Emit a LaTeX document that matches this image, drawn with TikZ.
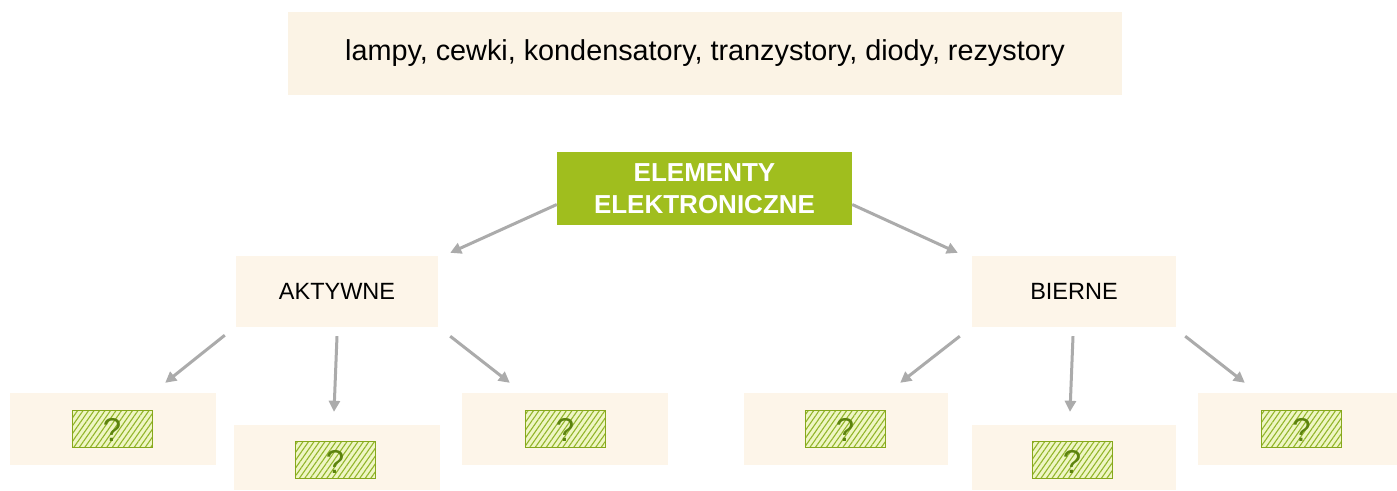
\documentclass[tikz,border=0pt]{standalone}
\usepackage{fontspec}
\setmainfont{Liberation Sans}
\usetikzlibrary{arrows.meta,patterns.meta,calc}
\definecolor{beige}{HTML}{FBF3E5}
\definecolor{beigeb}{HTML}{FDF5E9}
\definecolor{lime}{HTML}{A0BE1E}
\definecolor{hatchbg}{HTML}{EFF6C4}
\definecolor{hatchln}{HTML}{92B52A}
\definecolor{hatchbd}{HTML}{86A81C}
\definecolor{qmark}{HTML}{5C830E}
\definecolor{arrowgray}{HTML}{ABABAB}
\tikzset{
  infobox/.style={fill=beige, draw=none, inner sep=0pt},
  catbox/.style={fill=beigeb, draw=none, inner sep=0pt, minimum height=71pt, text=black, font=\fontsize{23.5}{27}\selectfont},
  leafbox/.style={fill=beigeb, draw=none, inner sep=0pt},
  rootbox/.style={fill=lime, draw=none, inner sep=0pt, minimum width=295pt, minimum height=73pt, text=white, align=center, font=\bfseries\fontsize{26}{32}\selectfont},
  hatchbox/.style={preaction={fill=hatchbg}, pattern={Lines[angle=55,distance=4.5pt,line width=1.1pt]}, pattern color=hatchln, draw=hatchbd, line width=0.9pt, inner sep=0pt, minimum width=80pt, minimum height=37pt},
  qlabel/.style={text=qmark, font=\fontsize{33}{36}\selectfont, inner sep=0pt},
  conn/.style={draw=arrowgray, line width=3pt, -{Triangle[length=11pt,width=11pt]}}
}
\begin{document}
\begin{tikzpicture}[x=1pt,y=-1pt]
\useasboundingbox (0,0) rectangle (1397,490);
\fill[white] (0,0) rectangle (1397,490);
\node[infobox, minimum width=834pt, minimum height=83pt, font=\fontsize{28.8}{32}\selectfont] (top) at (705,53.5) {lampy, cewki, kondensatory, tranzystory, diody, rezystory};
\node[rootbox] (root) at (704.5,188.5) {ELEMENTY\\ELEKTRONICZNE};
\node[catbox, minimum width=202pt] (akt) at (337,291.5) {AKTYWNE};
\node[catbox, minimum width=204pt] (bie) at (1074,291.5) {BIERNE};
\node[leafbox, minimum width=206pt, minimum height=72pt] (b1) at (113,429) {};
\node[leafbox, minimum width=206pt, minimum height=65pt] (b2) at (337,457.5) {};
\node[leafbox, minimum width=206pt, minimum height=72pt] (b3) at (565,429) {};
\node[leafbox, minimum width=204pt, minimum height=72pt] (b4) at (846,429) {};
\node[leafbox, minimum width=204pt, minimum height=65pt] (b5) at (1074,457.5) {};
\node[leafbox, minimum width=199pt, minimum height=72pt] (b6) at (1297.5,429) {};
\node[hatchbox] (h1) at (112,428.5) {};
\node[hatchbox] (h2) at (335,460) {};
\node[hatchbox] (h3) at (565,428.5) {};
\node[hatchbox] (h4) at (845,428.5) {};
\node[hatchbox] (h5) at (1072,460) {};
\node[hatchbox] (h6) at (1301.5,428.5) {};
\foreach \h in {h1,h2,h3,h4,h5,h6} {\node[qlabel] (q\h) at ($(\h.center)+(0,1.5)$) {?};}
\draw[conn] ($(root.west)+(0,16)$) -- ($(akt.north east)+(12,-3)$);
\draw[conn] ($(root.east)+(0,16)$) -- ($(bie.north west)+(-14,-3)$);
\draw[conn] ($(akt.south west)+(-11,8)$) -- ($(b1.north east)+(-51,-10)$);
\draw[conn] ($(akt.south)+(0,9)$) -- ($(b2.north)+(-3,-13)$);
\draw[conn] ($(akt.south east)+(12,9)$) -- ($(b3.north west)+(48,-10)$);
\draw[conn] ($(bie.south west)+(-12,9)$) -- ($(b4.north east)+(-48,-10)$);
\draw[conn] ($(bie.south)+(-1,9)$) -- ($(b5.north)+(-4,-13)$);
\draw[conn] ($(bie.south east)+(9,9)$) -- ($(b6.north west)+(47,-10)$);
\end{tikzpicture}
\end{document}
